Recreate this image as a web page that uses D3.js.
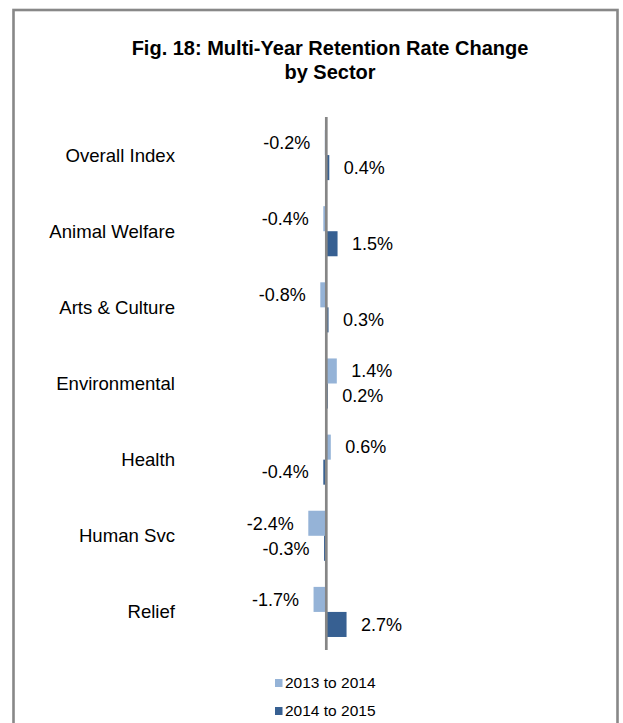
<!DOCTYPE html>
<html>
<head>
<meta charset="utf-8">
<script src="https://cdn.jsdelivr.net/npm/d3@7"></script>
<style>
  html, body { margin: 0; padding: 0; background: #fff; }
  svg { display: block; font-family: "Liberation Sans", Arial, sans-serif; }
</style>
</head>
<body>
<svg id="chart" width="623" height="723"></svg>
<script>
const categories = ["Overall Index", "Animal Welfare", "Arts & Culture", "Environmental", "Health", "Human Svc", "Relief"];
const seriesNames = ["2013 to 2014", "2014 to 2015"];
const values2013to2014 = [-0.2, -0.4, -0.8, 1.4, 0.6, -2.4, -1.7];
const values2014to2015 = [0.4, 1.5, 0.3, 0.2, -0.4, -0.3, 2.7];
const seriesColors = ["#95B3D7", "#376092"];
const titleLines = ["Fig. 18: Multi-Year Retention Rate Change", "by Sector"];

const seriesValues = [values2013to2014, values2014to2015];
const svg = d3.select("#chart");
const fmt = d3.formatLocale({decimal: ".", thousands: ",", grouping: [3], currency: ["", ""], minus: "-"}).format(".1f");

// frame
svg.append("rect")
  .attr("x", 13.5).attr("y", 10)
  .attr("width", 604).attr("height", 740)
  .attr("fill", "#fff")
  .attr("stroke", "#888888").attr("stroke-width", 2.6);

// title
const title = svg.append("text")
  .attr("text-anchor", "middle")
  .attr("font-size", 20).attr("font-weight", "bold").attr("fill", "#000");
titleLines.forEach((t, i) => {
  title.append("tspan").attr("x", 330).attr("y", 55 + i * 24).text(t);
});

// scales
const x = d3.scaleLinear().domain([-3, 3]).range([326.3 - 22.5, 326.3 + 22.5]);
const y = d3.scaleBand().domain(categories).range([117, 650]).padding(0);
const ySub = d3.scaleBand().domain(seriesNames).range([0, y.bandwidth()])
  .paddingInner(0).paddingOuter(0.52);

const rows = categories.map((c, i) => ({
  cat: c,
  vals: seriesNames.map((s, j) => ({ series: s, idx: j, v: seriesValues[j][i] }))
}));

const g = svg.append("g");
const row = g.selectAll("g.row").data(rows).join("g")
  .attr("class", "row")
  .attr("transform", d => `translate(0,${y(d.cat)})`);

row.selectAll("rect").data(d => d.vals).join("rect")
  .attr("x", d => Math.min(x(0), x(d.v)))
  .attr("width", d => Math.abs(x(d.v) - x(0)))
  .attr("y", d => ySub(d.series))
  .attr("height", ySub.bandwidth())
  .attr("fill", d => seriesColors[d.idx]);

row.selectAll("text.val").data(d => d.vals).join("text")
  .attr("class", "val")
  .attr("x", d => d.v >= 0 ? x(d.v) + 14.5 : x(d.v) - 14.5)
  .attr("y", d => ySub(d.series) + ySub.bandwidth() / 2)
  .attr("dy", "0.35em")
  .attr("text-anchor", d => d.v >= 0 ? "start" : "end")
  .attr("font-size", 18).attr("fill", "#000")
  .text(d => fmt(d.v) + "%");

// category labels
g.selectAll("text.cat").data(categories).join("text")
  .attr("class", "cat")
  .attr("x", 175)
  .attr("y", d => y(d) + y.bandwidth() / 2)
  .attr("dy", "0.35em")
  .attr("text-anchor", "end")
  .attr("font-size", 18.6).attr("fill", "#000")
  .text(d => d);

// zero axis line
svg.append("line")
  .attr("x1", x(0)).attr("x2", x(0))
  .attr("y1", y.range()[0]).attr("y2", y.range()[1])
  .attr("stroke", "#868686").attr("stroke-width", 2.7);

// legend
const legend = svg.append("g");
const lg = legend.selectAll("g").data(seriesNames).join("g")
  .attr("transform", (d, i) => `translate(275,${683 + i * 28})`);
lg.append("rect").attr("x", 0).attr("y", -4).attr("width", 7.5).attr("height", 8)
  .attr("fill", (d, i) => seriesColors[i]);
lg.append("text").attr("x", 10).attr("y", 0).attr("dy", "0.35em")
  .attr("font-size", 15.5).attr("fill", "#000").text(d => d);
</script>
</body>
</html>
